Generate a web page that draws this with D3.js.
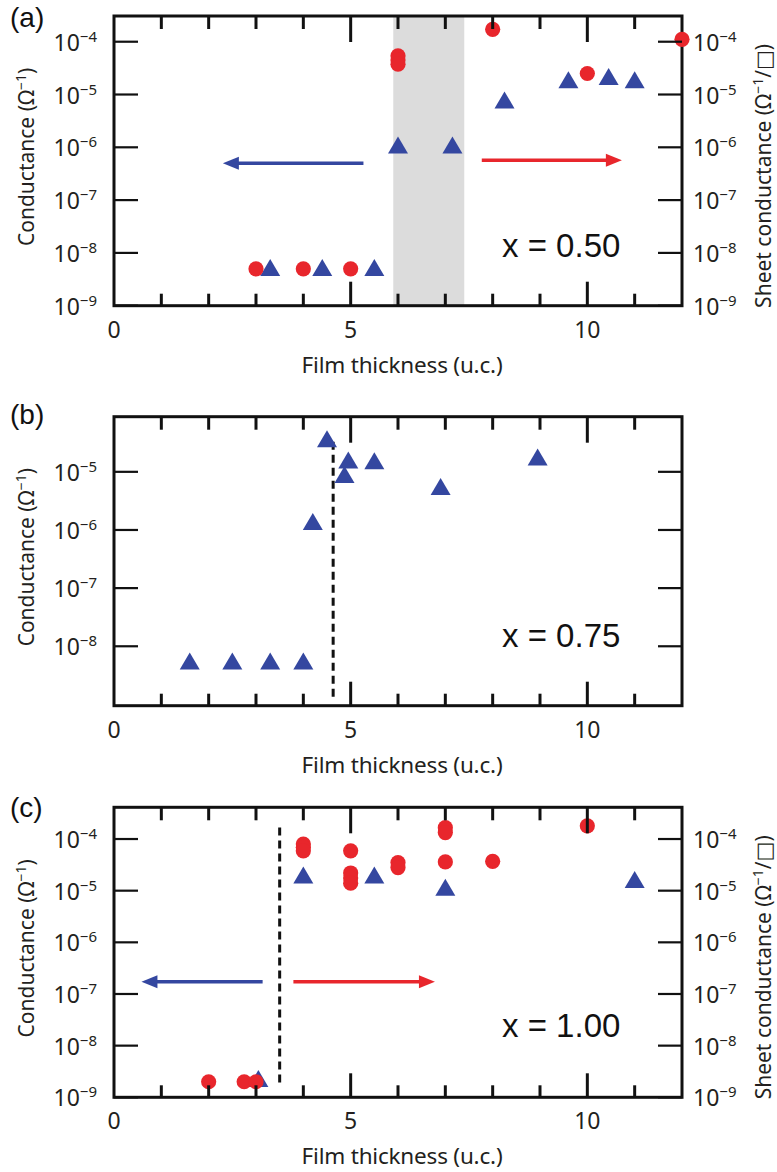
<!DOCTYPE html>
<html>
<head>
<meta charset="utf-8">
<script src="https://cdn.jsdelivr.net/npm/d3@7"></script>
<style>
  body { margin: 0; background: #fff; }
  svg { display: block; }
</style>
</head>
<body>
<script>
// ---------- data ----------
// (a) x = 0.50
const thickA_sheet = [3, 4, 5, 6, 6, 6, 8, 10, 12];
const sheetA = [5e-9, 5e-9, 5e-9, 5.4e-5, 4.5e-5, 3.75e-5, 1.72e-4, 2.5e-5, 1.11e-4];
const thickA_cond = [3.3, 4.4, 5.5, 6.0, 7.15, 8.25, 9.6, 10.45, 11.0];
const condA = [5.3e-9, 5.3e-9, 5.3e-9, 1.1e-6, 1.1e-6, 7.9e-6, 1.9e-5, 2.2e-5, 1.9e-5];
const bandA = [5.9, 7.4];

// (b) x = 0.75
const thickB_cond = [1.6, 2.5, 3.3, 4.0, 4.2, 4.5, 4.87, 4.95, 5.5, 6.9, 8.95];
const condB = [5.6e-9, 5.6e-9, 5.6e-9, 5.6e-9, 1.4e-6, 3.7e-5, 9e-6, 1.6e-5, 1.55e-5, 5.6e-6, 1.8e-5];
const dashB = { x: 4.63, y0: 1.3e-9, y1: 3.3e-5 };

// (c) x = 1.00
const thickC_sheet = [2, 2.75, 3.0, 4, 4, 4, 5, 5, 5, 5, 6, 6, 7, 7, 7, 8, 10];
const sheetC = [2e-9, 2e-9, 2e-9, 8e-5, 6.9e-5, 5.9e-5, 5.9e-5, 2.2e-5, 1.75e-5, 1.4e-5,
                3.5e-5, 2.8e-5, 1.66e-4, 1.33e-4, 3.6e-5, 3.7e-5, 1.8e-4];
const thickC_cond = [3.05, 4, 5.5, 7, 11];
const condC = [2.3e-9, 2e-5, 2e-5, 1.17e-5, 1.65e-5];
const dashC = { x: 3.5, y0: 1.87e-9, y1: 1.68e-4 };

// axis arrows (start -> tip) in data units
const arrowsA = [
  { x0: 5.27, x1: 2.3, y: 5e-7, side: "left" },
  { x0: 7.77, x1: 10.73, y: 5.7e-7, side: "right" }
];
const arrowsC = [
  { x0: 3.14, x1: 0.58, y: 1.73e-7, side: "left" },
  { x0: 3.79, x1: 6.78, y: 1.73e-7, side: "right" }
];

// ticks
const xDomain = [0, 12];
const xMajor = [0, 5, 10];
const xMinor = [1, 2, 3, 4, 6, 7, 8, 9, 11];
const decadesA = [-9, -8, -7, -6, -5, -4];
const decadesB = [-8, -7, -6, -5];
const decadesC = [-9, -8, -7, -6, -5, -4];

const panelLetters = ["(a)", "(b)", "(c)"];
const compositions = ["x = 0.50", "x = 0.75", "x = 1.00"];

// ---------- style ----------
const RED = "#e8262c";
const BLUE = "#3447a0";
const BAND = "#dcdcdc";
const FONT = "'Noto Sans', 'DejaVu Sans', sans-serif";
const FONT_LABEL = "'Liberation Sans', Arial, sans-serif";

const W = 777, H = 1172;
const left = 114, right = 682;

const svg = d3.select("body").append("svg")
  .attr("width", W).attr("height", H)
  .attr("viewBox", `0 0 ${W} ${H}`);

const panels = [
  {
    top: 16, bottom: 305.7, yDomain: [1e-9, Math.pow(10, -3.513)],
    sheetX: thickA_sheet, sheetY: sheetA, condX: thickA_cond, condY: condA,
    band: bandA, dash: null, arrows: arrowsA,
    leftDecades: decadesA, rightDecades: decadesA, rightLabels: true,
    letterY: 27, compY: 257
  },
  {
    top: 416.7, bottom: 705.7, yDomain: [Math.pow(10, -9.022), Math.pow(10, -4.052)],
    sheetX: [], sheetY: [], condX: thickB_cond, condY: condB,
    band: null, dash: dashB, arrows: [],
    leftDecades: decadesB, rightDecades: decadesB, rightLabels: false,
    letterY: 424, compY: 647
  },
  {
    top: 807.3, bottom: 1097.3, yDomain: [1e-9, Math.pow(10, -3.386)],
    sheetX: thickC_sheet, sheetY: sheetC, condX: thickC_cond, condY: condC,
    band: null, dash: dashC, arrows: arrowsC,
    leftDecades: decadesC, rightDecades: decadesC, rightLabels: true,
    letterY: 817, compY: 1037
  }
];

const triPath = "M0,-8.5L10,8.5L-10,8.5Z";

function powLabel(sel, exp, anchor) {
  const t = sel.append("text")
    .attr("font-family", FONT).attr("fill", "#231f20")
    .attr("text-anchor", anchor);
  t.append("tspan").attr("font-size", 23).text("10");
  t.append("tspan").attr("font-size", 15).attr("dy", -9).text("\u2212" + Math.abs(exp));
  return t;
}

panels.forEach((p, i) => {
  const g = svg.append("g");
  const x = d3.scaleLinear().domain(xDomain).range([left, right]);
  const y = d3.scaleLog().domain(p.yDomain).range([p.bottom, p.top]);

  // shaded thickness range
  if (p.band) {
    g.append("rect")
      .attr("x", x(p.band[0])).attr("y", p.top)
      .attr("width", x(p.band[1]) - x(p.band[0]))
      .attr("height", p.bottom - p.top)
      .attr("fill", BAND);
  }

  // frame
  g.append("rect")
    .attr("x", left).attr("y", p.top)
    .attr("width", right - left).attr("height", p.bottom - p.top)
    .attr("fill", "none").attr("stroke", "#111").attr("stroke-width", 3);

  // critical thickness
  if (p.dash) {
    g.append("line")
      .attr("x1", x(p.dash.x)).attr("x2", x(p.dash.x))
      .attr("y1", y(p.dash.y1)).attr("y2", y(p.dash.y0))
      .attr("stroke", "#111").attr("stroke-width", 3)
      .attr("stroke-dasharray", "8,5");
  }

  // arrows pointing at the relevant axis
  p.arrows.forEach(a => {
    const col = a.side === "left" ? BLUE : RED;
    const dir = Math.sign(a.x1 - a.x0);
    const xt = x(a.x1), yy = y(a.y);
    const hl = 16, hw = 6.5;
    g.append("line")
      .attr("x1", x(a.x0)).attr("x2", xt - dir * (hl - 1))
      .attr("y1", yy).attr("y2", yy)
      .attr("stroke", col).attr("stroke-width", 3.5);
    g.append("path")
      .attr("d", `M${xt},${yy}L${xt - dir * hl},${yy - hw}L${xt - dir * hl},${yy + hw}Z`)
      .attr("fill", col);
  });

  // conductance (triangles)
  g.selectAll(null).data(d3.zip(p.condX, p.condY)).join("path")
    .attr("d", triPath)
    .attr("transform", d => `translate(${x(d[0])},${y(d[1])})`)
    .attr("fill", BLUE);

  // sheet conductance (circles)
  g.selectAll(null).data(d3.zip(p.sheetX, p.sheetY)).join("circle")
    .attr("cx", d => x(d[0])).attr("cy", d => y(d[1]))
    .attr("r", 7.6).attr("fill", RED);

  // x ticks, inward on bottom and top
  const tk = g.append("g").attr("stroke", "#111").attr("stroke-width", 3);
  xMinor.forEach(v => {
    tk.append("line").attr("x1", x(v)).attr("x2", x(v)).attr("y1", p.bottom).attr("y2", p.bottom - 12);
    tk.append("line").attr("x1", x(v)).attr("x2", x(v)).attr("y1", p.top).attr("y2", p.top + 13);
  });
  xMajor.filter(v => v > xDomain[0]).forEach(v => {
    tk.append("line").attr("x1", x(v)).attr("x2", x(v)).attr("y1", p.bottom).attr("y2", p.bottom - 24);
    tk.append("line").attr("x1", x(v)).attr("x2", x(v)).attr("y1", p.top).attr("y2", p.top + 26);
  });

  // y ticks, inward on left and right
  const ytk = g.append("g").attr("stroke", "#111").attr("stroke-width", 2.2);
  p.leftDecades.forEach(e => {
    const yy = y(Math.pow(10, e));
    ytk.append("line").attr("x1", left).attr("x2", left + 24).attr("y1", yy).attr("y2", yy);
  });
  p.rightDecades.forEach(e => {
    const yy = y(Math.pow(10, e));
    ytk.append("line").attr("x1", right).attr("x2", right - 24).attr("y1", yy).attr("y2", yy);
  });

  // y tick labels
  p.leftDecades.forEach(e => {
    powLabel(g, e, "end")
      .attr("x", left - 17).attr("y", y(Math.pow(10, e)) + 9);
  });
  if (p.rightLabels) {
    p.rightDecades.forEach(e => {
      powLabel(g, e, "start")
        .attr("x", right + 11).attr("y", y(Math.pow(10, e)) + 9);
    });
  }

  // x tick labels
  xMajor.forEach(v => {
    g.append("text")
      .attr("x", x(v)).attr("y", p.bottom + 32)
      .attr("text-anchor", "middle")
      .attr("font-family", FONT).attr("font-size", 23).attr("fill", "#231f20")
      .text(v);
  });

  // axis titles
  g.append("text")
    .attr("x", (left + right) / 2 + 4).attr("y", p.bottom + 67)
    .attr("text-anchor", "middle")
    .attr("font-family", FONT).attr("font-size", 22.5).attr("fill", "#231f20")
    .attr("letter-spacing", -0.2)
    .text("Film thickness (u.c.)");

  const cy = (p.top + p.bottom) / 2;
  const yl = g.append("text")
    .attr("transform", `translate(34,${cy - 4}) rotate(-90)`)
    .attr("text-anchor", "middle")
    .attr("font-family", FONT).attr("font-size", 21).attr("fill", "#231f20");
  yl.append("tspan").text("Conductance (\u03a9");
  yl.append("tspan").attr("font-size", 14).attr("dy", -8).text("\u22121");
  yl.append("tspan").attr("dy", 8).text(")");

  if (p.rightLabels) {
    const yr = g.append("text")
      .attr("transform", `translate(771,${cy + 15}) rotate(-90)`)
      .attr("text-anchor", "middle")
      .attr("font-family", FONT).attr("font-size", 21).attr("fill", "#231f20");
    yr.append("tspan").text("Sheet conductance (\u03a9");
    yr.append("tspan").attr("font-size", 14).attr("dy", -8).text("\u22121");
    yr.append("tspan").attr("dy", 8).text("/\u25a1)");
  }

  // panel letter and composition
  g.append("text")
    .attr("x", 10).attr("y", p.letterY)
    .attr("font-family", FONT_LABEL).attr("font-size", 28).attr("fill", "#111")
    .text(panelLetters[i]);
  g.append("text")
    .attr("x", 502).attr("y", p.compY)
    .attr("font-family", FONT_LABEL).attr("font-size", 33).attr("fill", "#111")
    .text(compositions[i]);
});
</script>
</body>
</html>
